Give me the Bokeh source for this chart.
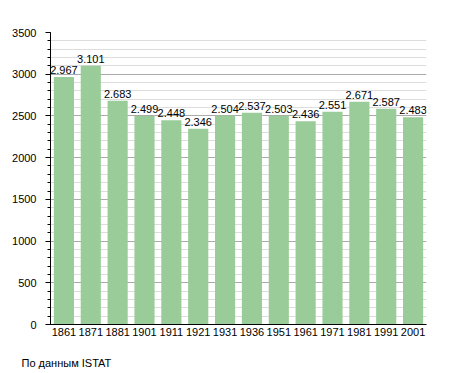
from bokeh.plotting import figure
from bokeh.models import ColumnDataSource, SingleIntervalTicker, Title
from bokeh.core.properties import value
from bokeh.embed import file_html
from bokeh.resources import INLINE

years = ["1861", "1871", "1881", "1901", "1911", "1921", "1931", "1936",
         "1951", "1961", "1971", "1981", "1991", "2001"]
population = [2967, 3101, 2683, 2499, 2448, 2346, 2504, 2537, 2503, 2436,
              2551, 2671, 2587, 2483]
labels = [f"{v:,}".replace(",", ".") for v in population]
source_note = "По данным  ISTAT"

FONT = "Liberation Sans"
FS = "11px"

src = ColumnDataSource(dict(year=years, pop=population, lab=labels))

p = figure(x_range=years, y_range=(0, 3500), width=447, height=373,
           output_backend="svg", toolbar_location=None,
           min_border_left=50, min_border_right=21, min_border_top=32,
           min_border_bottom=49)
p.outline_line_color = None
p.background_fill_color = "white"
p.border_fill_color = "white"
p.x_range.range_padding = 0

p.vbar(x="year", top="pop", width=0.75, source=src,
       fill_color="#99cc99", line_color=None)

p.text(x="year", y="pop", text="lab", source=src, text_align="center",
       text_baseline="bottom", y_offset=-3,
       text_font=value(FONT), text_font_size=FS, text_color="black")

ticker = SingleIntervalTicker(interval=500, num_minor_ticks=5)
p.yaxis.ticker = ticker
p.ygrid.ticker = ticker
p.ygrid.grid_line_color = "#aaaaaa"
p.ygrid.minor_grid_line_color = "#dddddd"
p.xgrid.grid_line_color = None
p.ygrid.level = "underlay"

p.yaxis.axis_line_color = "black"
p.yaxis.major_tick_out = 5
p.yaxis.major_tick_in = 0
p.yaxis.minor_tick_out = 3
p.yaxis.minor_tick_in = 0
p.yaxis.major_label_standoff = 9
p.yaxis.major_label_text_font = FONT
p.yaxis.major_label_text_font_size = FS
p.yaxis.major_label_text_color = "black"

p.xaxis.axis_line_color = "black"
p.xaxis.major_tick_line_color = None
p.xaxis.minor_tick_line_color = None
p.xaxis.major_tick_out = 0
p.xaxis.major_label_standoff = 3
p.xaxis.major_label_text_font = FONT
p.xaxis.major_label_text_font_size = FS
p.xaxis.major_label_text_color = "black"
p.xaxis.axis_label = " "
p.xaxis.axis_label_text_font_size = "1px"
p.xaxis.axis_label_standoff = 8

note = Title(text=source_note, align="left", offset=-29, standoff=8,
             text_font=FONT, text_font_size=FS, text_font_style="normal",
             text_color="black")
p.add_layout(note, "below")

open("out.html", "w").write(file_html(p, INLINE))
